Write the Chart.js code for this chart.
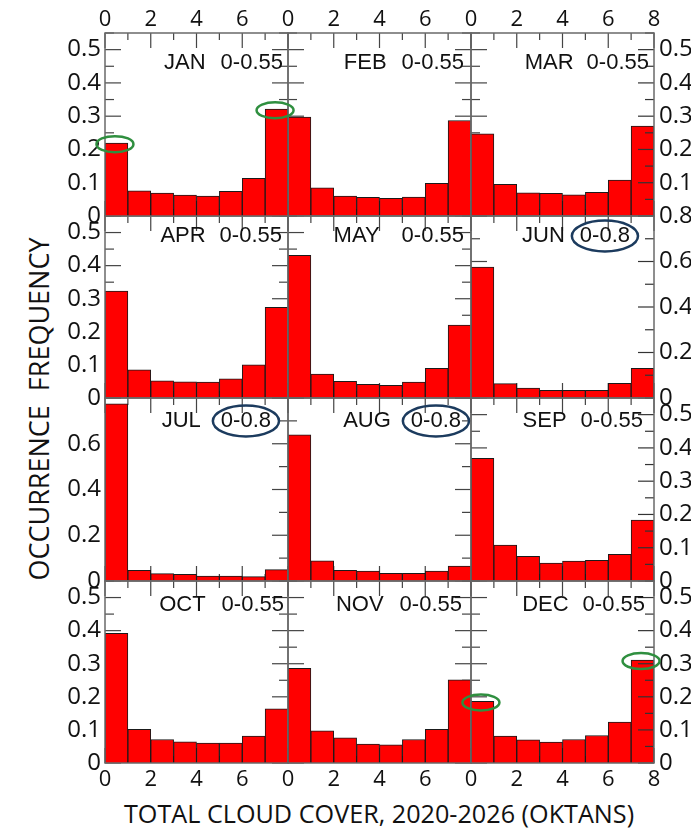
<!DOCTYPE html>
<html>
<head>
<meta charset="utf-8">
<script src="https://cdn.jsdelivr.net/npm/chart.js@4.4.1/dist/chart.umd.min.js"></script>
<style>
  html, body { margin: 0; padding: 0; background: #fff; }
  #wrap { position: relative; width: 691px; height: 828px; overflow: hidden; }
  #wrap canvas { position: absolute; }
  .title { position: absolute; font-family: 'Open Sans', sans-serif; color: #111; white-space: pre; line-height: 1; }
  #xtitle { left: 379px; top: 814px; font-size: 25.2px; transform: translate(-50%, -50%); }
  #ytitle { left: 38px; top: 409px; font-size: 27px; transform: translate(-50%, -50%) rotate(-90deg); }
</style>
</head>
<body>
<div id="wrap">
  <div class="title" id="xtitle">TOTAL CLOUD COVER, 2020-2026 (OKTANS)</div>
  <div class="title" id="ytitle">OCCURRENCE  FREQUENCY</div>
</div>
<script>
// cloud cover bins (oktas) and monthly occurrence frequencies
const bins = [0, 1, 2, 3, 4, 5, 6, 7];
const months = ['JAN', 'FEB', 'MAR', 'APR', 'MAY', 'JUN', 'JUL', 'AUG', 'SEP', 'OCT', 'NOV', 'DEC'];
const rangeMax = [0.55, 0.55, 0.55, 0.55, 0.55, 0.8, 0.8, 0.8, 0.55, 0.55, 0.55, 0.55];
const jan = [0.219, 0.076, 0.069, 0.063, 0.060, 0.074, 0.113, 0.321];
const feb = [0.297, 0.085, 0.060, 0.056, 0.053, 0.057, 0.098, 0.287];
const mar = [0.247, 0.095, 0.070, 0.068, 0.064, 0.071, 0.108, 0.270];
const apr = [0.323, 0.085, 0.052, 0.049, 0.048, 0.058, 0.100, 0.274];
const may = [0.431, 0.072, 0.050, 0.041, 0.038, 0.048, 0.090, 0.220];
const jun = [0.576, 0.063, 0.044, 0.034, 0.034, 0.034, 0.064, 0.130];
const jul = [0.775, 0.047, 0.032, 0.029, 0.022, 0.022, 0.019, 0.050];
const aug = [0.639, 0.088, 0.047, 0.043, 0.034, 0.034, 0.043, 0.065];
const sep = [0.369, 0.108, 0.074, 0.054, 0.060, 0.062, 0.080, 0.183];
const oct = [0.392, 0.102, 0.071, 0.064, 0.060, 0.060, 0.081, 0.164];
const nov = [0.286, 0.097, 0.076, 0.057, 0.055, 0.071, 0.102, 0.251];
const dec = [0.186, 0.081, 0.070, 0.063, 0.071, 0.083, 0.124, 0.311];
const series = [jan, feb, mar, apr, may, jun, jul, aug, sep, oct, nov, dec];
const xTickLabels = [0, 2, 4, 6, 8];
// highlighted bars (green rings)
const greenMarks = [['JAN', 0], ['JAN', 7], ['DEC', 0], ['DEC', 7]];

// layout
const colLeft = [105, 288, 471];
const colWidth = 183;
const rowTop = [33, 216, 398, 581];
const rowHeight = [183, 182, 183, 182];
const M = 50;
const labelDown = [30, 19.5, 22.5, 23.5];
const labelInset = [5, 7, 5, 6, 7, 24, 17, 10, 11, 4, 9, 9];
const labelGap = [15, 15, 13, 14, 22, 15, 20, 20, 14, 16, 16, 14];

const wrap = document.getElementById('wrap');
const yFont = { family: "'Open Sans', sans-serif", size: 24 };
const xFont = { family: "'Open Sans', sans-serif", size: 22 };

function pct(v) { return Math.round(v * 100); }

function line(ctx, x1, y1, x2, y2) {
    ctx.beginPath(); ctx.moveTo(x1, y1); ctx.lineTo(x2, y2); ctx.stroke();
}

const panelDecor = {
    id: 'panelDecor',
    beforeDatasetsDraw(chart, args, o) {
        const { ctx, chartArea: a, scales } = chart;
        ctx.save();
        ctx.strokeStyle = '#444';
        ctx.lineWidth = 1.2;
        scales.y.ticks.forEach(t => {
            const py = scales.y.getPixelForValue(t.value);
            const len = pct(t.value) % o.major === 0 ? 16 : 9;
            line(ctx, a.left, py, a.left + len, py);
            if (o.col !== 2) line(ctx, a.right, py, a.right - len, py);
        });
        scales.x.ticks.forEach(t => {
            const px = scales.x.getPixelForValue(t.value);
            const len = t.value % 2 === 0 ? 15 : 7;
            line(ctx, px, a.top, px, a.top + len);
            line(ctx, px, a.bottom, px, a.bottom - len);
        });
        ctx.restore();
    },
    afterDatasetsDraw(chart, args, o) {
        const { ctx, chartArea: a, scales } = chart;
        ctx.save();
        ctx.strokeStyle = '#333';
        ctx.lineWidth = 1.2;
        if (o.col === 2) {
            scales.y.ticks.forEach(t => {
                const py = scales.y.getPixelForValue(t.value);
                const len = pct(t.value) % o.major === 0 ? 16 : 9;
                line(ctx, a.right, py, a.right - len, py);
            });
        }
        ctx.strokeStyle = '#6a6a6a';
        ctx.lineWidth = 1.5;
        ctx.strokeRect(a.left, a.top, a.right - a.left, a.bottom - a.top);

        // panel label
        ctx.font = '22px "Liberation Sans", Arial, sans-serif';
        ctx.fillStyle = '#111';
        ctx.textAlign = 'right';
        ctx.textBaseline = 'middle';
        const rangeText = '0-' + o.max;
        const rx = a.right - o.inset;
        const ly = a.top + o.down;
        ctx.fillText(rangeText, rx, ly);
        const rw = ctx.measureText(rangeText).width;
        ctx.fillText(o.month, rx - rw - o.gap, ly);

        ctx.lineWidth = 2.5;
        if (o.max > 0.6) {
            ctx.strokeStyle = '#1c3b5e';
            ctx.beginPath();
            ctx.ellipse(rx - rw / 2, ly + 0.5, rw / 2 + 8, 15.5, 0, 0, Math.PI * 2);
            ctx.stroke();
        }
        greenMarks.filter(g => g[0] === o.month).forEach(g => {
            const cx = scales.x.getPixelForValue(bins[g[1]] + 0.5) - 1.5;
            const cy = scales.y.getPixelForValue(o.values[g[1]]) + 1;
            ctx.strokeStyle = '#2f8f3f';
            ctx.beginPath();
            ctx.ellipse(cx, cy, 18.5, 8, 0, 0, Math.PI * 2);
            ctx.stroke();
        });
        ctx.restore();
    }
};

months.forEach((month, i) => {
    const row = Math.floor(i / 3), col = i % 3;
    const max = rangeMax[i];
    const step = max > 0.6 ? 0.1 : 0.05;
    const major = max > 0.6 ? 20 : 10;
    const w = colWidth + 2 * M, h = rowHeight[row] + 2 * M;

    const canvas = document.createElement('canvas');
    canvas.width = w; canvas.height = h;
    canvas.style.width = w + 'px'; canvas.style.height = h + 'px';
    canvas.style.left = (colLeft[col] - M) + 'px';
    canvas.style.top = (rowTop[row] - M) + 'px';
    canvas.style.zIndex = greenMarks.some(g => g[0] === month) ? 3 : 1;
    wrap.appendChild(canvas);

    const below = i + 3 < months.length ? rangeMax[i + 3] : 0;
    function yLabel(v, show) {
        if (!show) return '';
        const p = pct(v);
        if (p % major !== 0) return '';
        if (p === pct(max) && col === 0) return '';
        if (p === 0 && col === 2 && below > 0.6) return '';
        return String(p / 100);
    }
    function xLabel(v, show) {
        if (!show || !xTickLabels.includes(v)) return '';
        if (v === 8 && col !== 2) return '';
        return String(v);
    }
    const yCommon = {
        type: 'linear', min: 0, max: max,
        grid: { display: false, drawTicks: false }, border: { display: false },
        afterFit: s => { s.width = M; },
    };
    const xCommon = {
        type: 'linear', min: 0, max: 8, offset: false,
        grid: { display: false, drawTicks: false, offset: false }, border: { display: false },
        afterFit: s => { s.height = M; },
    };

    new Chart(canvas, {
        type: 'bar',
        data: {
            datasets: [{
                data: series[i].map((v, k) => ({ x: bins[k] + 0.5, y: v })),
                backgroundColor: '#ff0000',
                borderColor: '#1a1a1a',
                borderWidth: 1,
                barPercentage: 1,
                categoryPercentage: 1,
                xAxisID: 'x',
                yAxisID: 'y'
            }]
        },
        options: {
            responsive: false,
            animation: false,
            events: [],
            layout: { padding: 0 },
            plugins: {
                legend: { display: false },
                tooltip: { enabled: false },
                panelDecor: {
                    col: col, month: month, max: max, major: major, values: series[i],
                    inset: labelInset[i], gap: labelGap[i], down: labelDown[row]
                }
            },
            scales: {
                x: Object.assign({}, xCommon, {
                    position: 'bottom',
                    ticks: { stepSize: 1, autoSkip: false, maxRotation: 0, padding: 4, color: '#111',
                             font: xFont, callback: v => xLabel(v, row === 3) }
                }),
                x2: Object.assign({}, xCommon, {
                    position: 'top',
                    ticks: { stepSize: 1, autoSkip: false, maxRotation: 0, padding: 0, color: '#111',
                             font: xFont, callback: v => xLabel(v, row === 0) }
                }),
                y: Object.assign({}, yCommon, {
                    position: 'left',
                    ticks: { stepSize: step, autoSkip: false, padding: 4, color: '#111', font: yFont,
                             callback: v => yLabel(v, col === 0) }
                }),
                y2: Object.assign({}, yCommon, {
                    position: 'right',
                    ticks: { stepSize: step, autoSkip: false, padding: 5, color: '#111', font: yFont,
                             callback: v => yLabel(v, col === 2) }
                })
            }
        },
        plugins: [panelDecor]
    });
});
</script>
</body>
</html>
